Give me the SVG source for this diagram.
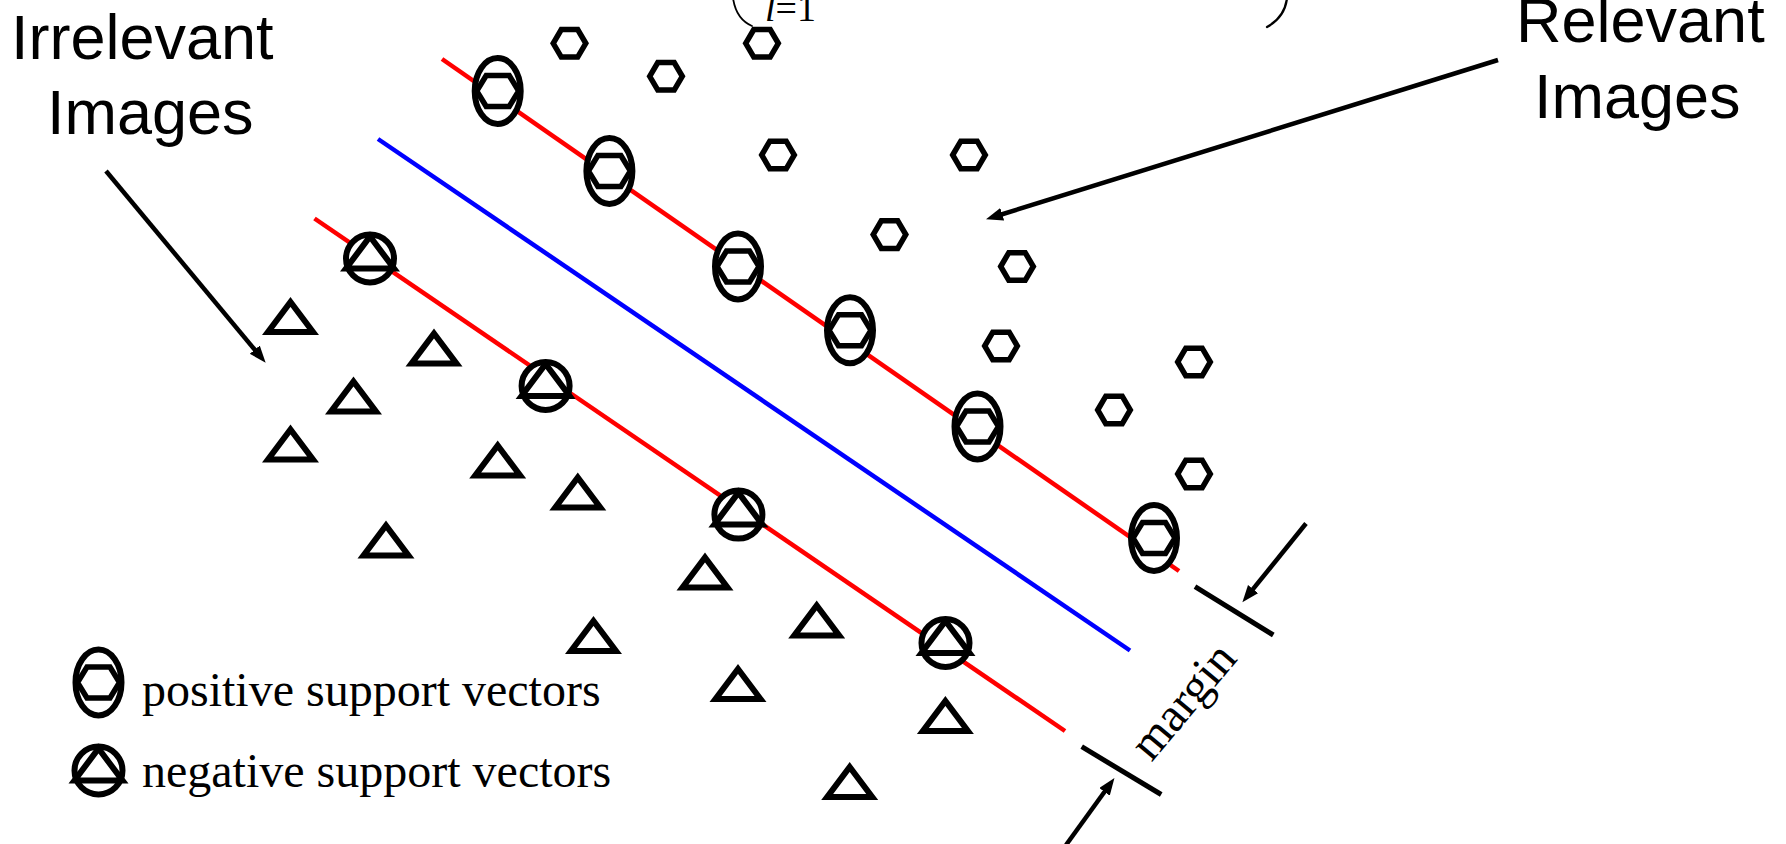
<svg xmlns="http://www.w3.org/2000/svg" width="1786" height="844" viewBox="0 0 1786 844">
<style>
.big{font-family:"Liberation Sans",Arial,sans-serif;font-size:63px;fill:#000}
.ser{font-family:"Liberation Serif","Times New Roman",serif;fill:#000}
.hx{fill:#fff;stroke:#000;stroke-width:5.5;stroke-linejoin:miter}
.tr{fill:#fff;stroke:#000;stroke-width:6;stroke-linejoin:miter;stroke-miterlimit:10}
.ov{fill:#fff;stroke:#000;stroke-width:6}
.arr{stroke:#000;stroke-width:4.5;fill:none}
.tick{stroke:#000;stroke-width:5;fill:none}
.red{stroke:#ff0000;stroke-width:4.5;fill:none}
.blue{stroke:#0000ff;stroke-width:4.5;fill:none}
.paren{stroke:#000;fill:none;stroke-linecap:round}
</style>
<defs>
<marker id="ah" markerUnits="userSpaceOnUse" markerWidth="19" markerHeight="15" refX="6" refY="6.5" orient="auto">
<path d="M0,0 L17,6.5 L0,13 z" fill="#000"/>
</marker>
<polygon id="hex" class="hx" points="-16.3,0 -8.2,-13.8 8.2,-13.8 16.3,0 8.2,13.8 -8.2,13.8"/>
<polygon id="tri" class="tr" points="0,-14 22.5,16 -22.5,16"/>
<g id="psv">
<ellipse class="ov" cx="0" cy="0" rx="23" ry="33"/>
<polygon class="hx" points="-21,0 -11.5,-15.5 11.5,-15.5 21,0 11.5,15.5 -11.5,15.5"/>
</g>
<g id="nsv">
<circle class="ov" cx="0" cy="0" r="24"/>
<polygon class="tr" points="0,-22 24,10 -24,10"/>
</g>
</defs>
<rect width="1786" height="844" fill="#fff"/>

<g id="formula">
<path class="paren" stroke-width="1.8" d="M733,-2 Q736,19 752,26"/>
<text class="ser" x="765" y="21" font-size="38"><tspan font-style="italic">l</tspan>=1</text>
<path class="paren" stroke-width="2.3" d="M1287,-2 Q1285,17 1267,27"/>
</g>

<g id="hyperplanes">
<line id="plane-pos" class="red" x1="442" y1="59" x2="1179" y2="571"/>
<line id="plane-mid" class="blue" x1="378" y1="139" x2="1130" y2="650.5"/>
<line id="plane-neg" class="red" x1="314.5" y1="218.5" x2="1065" y2="731"/>
</g>

<g id="labels">
<text class="big" x="11" y="59">Irrelevant</text>
<text class="big" x="47" y="134">Images</text>
<text class="big" x="1516" y="42">Relevant</text>
<text class="big" x="1534" y="118">Images</text>
</g>

<g id="relevant-points">
<g id="hex1"><use href="#hex" x="569.5" y="43.3"/></g>
<g id="hex2"><use href="#hex" x="762" y="43.3"/></g>
<g id="hex3"><use href="#hex" x="666" y="76.3"/></g>
<g id="hex4"><use href="#hex" x="778" y="155"/></g>
<g id="hex5"><use href="#hex" x="969" y="155"/></g>
<g id="hex6"><use href="#hex" x="889.5" y="234.6"/></g>
<g id="hex7"><use href="#hex" x="1017" y="266.5"/></g>
<g id="hex8"><use href="#hex" x="1001" y="346"/></g>
<g id="hex9"><use href="#hex" x="1194" y="362"/></g>
<g id="hex10"><use href="#hex" x="1114" y="410"/></g>
<g id="hex11"><use href="#hex" x="1194" y="474"/></g>
</g>

<g id="positive-sv">
<g id="psv1"><use href="#psv" x="497.7" y="91"/></g>
<g id="psv2"><use href="#psv" x="609.4" y="171"/></g>
<g id="psv3"><use href="#psv" x="738" y="266.5"/></g>
<g id="psv4"><use href="#psv" x="850" y="330.3"/></g>
<g id="psv5"><use href="#psv" x="977.5" y="426.5"/></g>
<g id="psv6"><use href="#psv" x="1154" y="538"/></g>
</g>

<g id="irrelevant-points">
<g id="tri1"><use href="#tri" x="290.5" y="316"/></g>
<g id="tri2"><use href="#tri" x="434" y="347.5"/></g>
<g id="tri3"><use href="#tri" x="353.5" y="395.5"/></g>
<g id="tri4"><use href="#tri" x="290.5" y="443.5"/></g>
<g id="tri5"><use href="#tri" x="497.7" y="459.5"/></g>
<g id="tri6"><use href="#tri" x="577.8" y="491.5"/></g>
<g id="tri7"><use href="#tri" x="386" y="539.5"/></g>
<g id="tri8"><use href="#tri" x="705" y="571.5"/></g>
<g id="tri9"><use href="#tri" x="816.7" y="619.5"/></g>
<g id="tri10"><use href="#tri" x="593.5" y="635"/></g>
<g id="tri11"><use href="#tri" x="738" y="683"/></g>
<g id="tri12"><use href="#tri" x="945.4" y="715"/></g>
<g id="tri13"><use href="#tri" x="849.7" y="781"/></g>
</g>

<g id="negative-sv">
<g id="nsv1"><use href="#nsv" x="370" y="258.5"/></g>
<g id="nsv2"><use href="#nsv" x="545.6" y="386"/></g>
<g id="nsv3"><use href="#nsv" x="738.4" y="514.6"/></g>
<g id="nsv4"><use href="#nsv" x="945.5" y="643"/></g>
</g>

<g id="margin">
<line class="tick" x1="1195" y1="586.7" x2="1273.3" y2="635"/>
<line class="tick" x1="1081.7" y1="746.7" x2="1161.2" y2="794.5"/>
<text class="ser" font-size="48" text-anchor="middle" transform="translate(1195,711) rotate(-50)">margin</text>
</g>

<g id="connectors">
<line class="arr" x1="106" y1="171" x2="258.6" y2="354.3" marker-end="url(#ah)"/>
<line class="arr" x1="1498" y1="60" x2="996.5" y2="216" marker-end="url(#ah)"/>
<line class="arr" x1="1306" y1="523.5" x2="1249.3" y2="593.7" marker-end="url(#ah)"/>
<line class="arr" x1="1066" y1="845" x2="1108" y2="787" marker-end="url(#ah)"/>
</g>

<g id="legend">
<g id="legend-psv"><use href="#psv" x="98.5" y="682.5"/></g>
<text class="ser" x="142" y="706" font-size="48">positive support vectors</text>
<g id="legend-nsv"><use href="#nsv" x="98.5" y="770.5"/></g>
<text class="ser" x="142" y="787" font-size="48">negative support vectors</text>
</g>
</svg>
